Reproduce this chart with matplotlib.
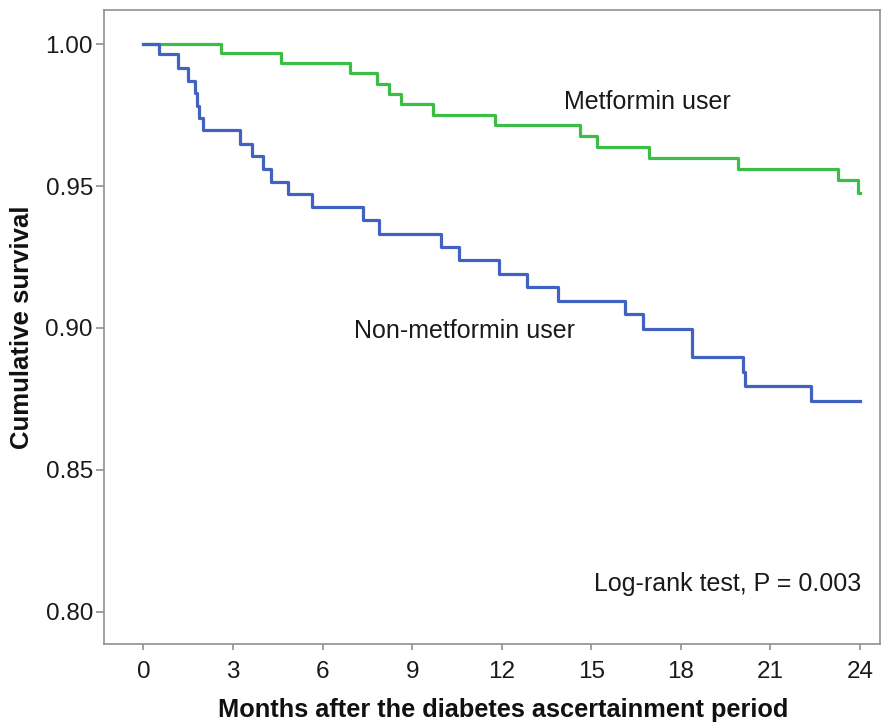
import matplotlib.pyplot as plt

# Kaplan-Meier curves (months, cumulative survival)
met_time = [0, 2.59, 4.60, 6.92, 7.81, 8.23, 8.63, 9.69, 11.79, 14.62, 15.20, 16.93, 19.93, 23.28, 23.93, 24.0]
met_surv = [1.0, 0.9967, 0.9932, 0.9897, 0.9860, 0.9823, 0.9788, 0.9750, 0.9714, 0.9676, 0.9638, 0.9600,
            0.9559, 0.9520, 0.9476, 0.9476]

non_time = [0, 0.53, 1.15, 1.50, 1.73, 1.80, 1.87, 2.00, 3.23, 3.62, 4.01, 4.26, 4.85, 5.65, 7.36, 7.88,
            9.97, 10.58, 11.92, 12.86, 13.90, 16.13, 16.72, 18.39, 20.09, 20.16, 22.36, 24.0]
non_surv = [1.0, 0.9964, 0.9917, 0.9870, 0.9829, 0.9782, 0.9738, 0.9696, 0.9649, 0.9606, 0.9559, 0.9514,
            0.9471, 0.9427, 0.9381, 0.9332, 0.9285, 0.9239, 0.9190, 0.9144, 0.9095, 0.9048, 0.8998,
            0.8898, 0.8846, 0.8796, 0.8743, 0.8743]

x_ticks = [0, 3, 6, 9, 12, 15, 18, 21, 24]
y_ticks = [0.80, 0.85, 0.90, 0.95, 1.00]

plt.rcParams['font.family'] = ['Liberation Sans', 'DejaVu Sans']

fig = plt.figure(figsize=(8.93, 7.27), dpi=100)
ax = fig.add_axes([0.1165, 0.1142, 0.8689, 0.872])

ax.plot(met_time, met_surv, drawstyle='steps-post', color='#3cbe46', lw=2.3)
ax.plot(non_time, non_surv, drawstyle='steps-post', color='#4262c2', lw=2.3)

ax.set_xlim(-1.32, 24.67)
ax.set_ylim(0.7887, 1.012)
ax.set_xticks(x_ticks)
ax.set_yticks(y_ticks)
ax.set_yticklabels([f'{v:.2f}' for v in y_ticks])

for s in ax.spines.values():
    s.set_color('#909090')
    s.set_linewidth(1.2)
ax.tick_params(axis='both', colors='#909090', labelcolor='#1a1a1a', labelsize=17.5, width=1.2)
ax.tick_params(axis='y', length=6, pad=2)
ax.tick_params(axis='x', length=4, pad=8)

ax.set_xlabel('Months after the diabetes ascertainment period', fontsize=18.3, fontweight='bold',
              color='#111111')
ax.xaxis.set_label_coords(0.515, -0.086)
ax.set_ylabel('Cumulative survival', fontsize=18.5, fontweight='bold', labelpad=8, color='#111111')

ax.text(14.1, 0.9796, 'Metformin user', fontsize=18, va='center', ha='left', color='#1a1a1a')
ax.text(7.04, 0.899, 'Non-metformin user', fontsize=18, va='center', ha='left', color='#1a1a1a')
ax.text(24.03, 0.8099, 'Log-rank test, P = 0.003', fontsize=18, va='center', ha='right', color='#1a1a1a')

fig.savefig('out.png', dpi=100)
